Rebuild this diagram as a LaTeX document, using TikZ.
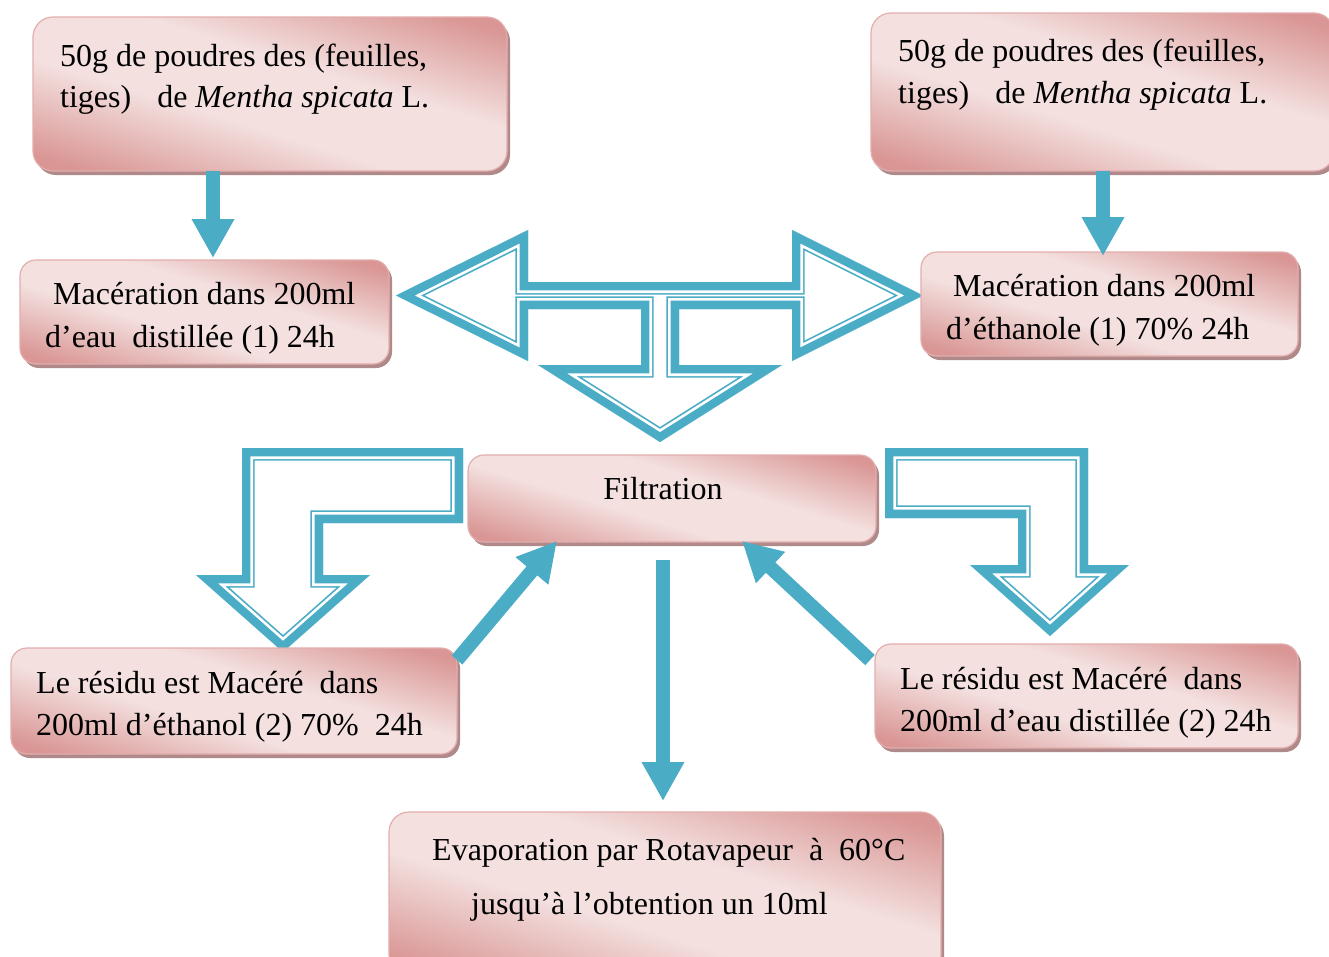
\documentclass[tikz,border=0pt]{standalone}
\usepackage{fontspec}
\setmainfont{Liberation Serif}
\usetikzlibrary{arrows.meta,shadows}
\definecolor{ablue}{HTML}{4BACC6}
\definecolor{pdark}{HTML}{D99694}
\definecolor{plight}{HTML}{F3E0DF}
\definecolor{pmid}{HTML}{E3AEAD}
\definecolor{shadowc}{HTML}{B08A8A}
\pgfdeclarehorizontalshading{boxshade}{100bp}{color(0bp)=(pdark); color(22bp)=(pdark); color(42bp)=(plight); color(58bp)=(plight); color(78bp)=(pdark); color(100bp)=(pdark)}
\newcommand\dblarrow[1]{%
  \begin{scope}
    \clip #1 -- cycle;
    \draw[ablue, line width=25.4pt, line join=miter] #1 -- cycle;
    \draw[white, line width=22pt, line join=miter] #1 -- cycle;
    \draw[ablue, line width=16.6pt, line join=miter] #1 -- cycle;
  \end{scope}}
\tikzset{
  box/.style={rectangle, rounded corners=16pt, shading=boxshade, shading angle=73,
    draw=pmid, line width=1.2pt, outer sep=0pt,
    general shadow={fill=shadowc, shadow xshift=3pt, shadow yshift=-4pt}},
  txt/.style={anchor=base west, inner sep=0pt, font=\fontsize{32}{40}\selectfont},
  bigarrow/.style={draw=ablue, line width=14pt, -{Triangle[width=40pt,length=39pt]}}
}
\begin{document}
\begin{tikzpicture}[x=1pt,y=-1pt]
\fill[white] (0,0) rectangle (1329,956);
\useasboundingbox (0,0) rectangle (1329,956);

% block arrows
\dblarrow{(396,295.5) -- (528,230) -- (528,282) -- (792,282) -- (792,230) -- (923,295.5) -- (792,361) -- (792,309) -- (679,309) -- (679,365) -- (782,365) -- (660,442) -- (538,365) -- (641,365) -- (641,309) -- (528,309) -- (528,361)}
\dblarrow{(242,448) -- (463,448) -- (463,523) -- (323,523) -- (323,575) -- (370,575) -- (283,652) -- (196,575) -- (242,575)}
\dblarrow{(885,448) -- (1088,448) -- (1088,565) -- (1129,565) -- (1050,636) -- (970,565) -- (1018,565) -- (1018,518) -- (885,518)}

% boxes
\node[box, rounded corners=20pt, minimum width=474pt, minimum height=154pt] (tl) at (270,94) {};
\node[box, rounded corners=20pt, minimum width=463pt, minimum height=158pt] (tr) at (1102.5,92) {};
\node[box, minimum width=369pt, minimum height=104pt] (macl) at (204.5,312) {};
\node[box, minimum width=377pt, minimum height=104pt] (macr) at (1109.5,304) {};
\node[box, minimum width=408pt, minimum height=87pt] (filt) at (672,498.5) {};
\node[box, minimum width=446pt, minimum height=106pt] (resl) at (234,701) {};
\node[box, minimum width=423pt, minimum height=104pt] (resr) at (1086.5,696) {};
\node[box, rounded corners=20pt, minimum width=552pt, minimum height=163pt] (evap) at (665,893.5) {};

% texts
\node[txt] (tl1) at (60,66) {50g de poudres des (feuilles,};
\node[txt] (tl2) at (60,107) {tiges)\hspace{26pt}de \textit{Mentha spicata} L.};
\node[txt] (tr1) at (898,61) {50g de poudres des (feuilles,};
\node[txt] (tr2) at (898,103) {tiges)\hspace{26pt}de \textit{Mentha spicata} L.};
\node[txt] (ml1) at (53,304) {Macération dans 200ml};
\node[txt] (ml2) at (45,347) {d’eau\ \ distillée (1) 24h};
\node[txt] (mr1) at (953,296) {Macération dans 200ml};
\node[txt] (mr2) at (946,339) {d’éthanole (1) 70\%\ 24h};
\node[txt, anchor=base] (ft) at (663,499) {Filtration};
\node[txt] (rl1) at (36,693) {Le résidu est Macéré\ \ dans};
\node[txt] (rl2) at (36,735) {200ml d’éthanol (2) 70\%\ \ 24h};
\node[txt] (rr1) at (900,689) {Le résidu est Macéré\ \ dans};
\node[txt] (rr2) at (900,731) {200ml d’eau distillée (2) 24h};
\node[txt] (ev1) at (432,860) {Evaporation par Rotavapeur\ \ à\ \ 60°C};
\node[txt] (ev2) at (471,914) {jusqu’à l’obtention un 10ml};

% straight arrows
\coordinate (a1s) at (213,171);
\coordinate (a1e) at (213,258);
\coordinate (a2s) at (1103,171);
\coordinate (a2e) at (1103,256);
\coordinate (a3s) at (663,560);
\coordinate (a3e) at (663,801);
\coordinate (a4s) at (457,660);
\coordinate (a4e) at (557,541);
\coordinate (a5s) at (870,660);
\coordinate (a5e) at (742,541);
\draw[bigarrow] (a1s) -- (a1e);
\draw[bigarrow] (a2s) -- (a2e);
\draw[bigarrow] (a3s) -- (a3e);
\draw[bigarrow] (a4s) -- (a4e);
\draw[bigarrow] (a5s) -- (a5e);
\end{tikzpicture}
\end{document}
